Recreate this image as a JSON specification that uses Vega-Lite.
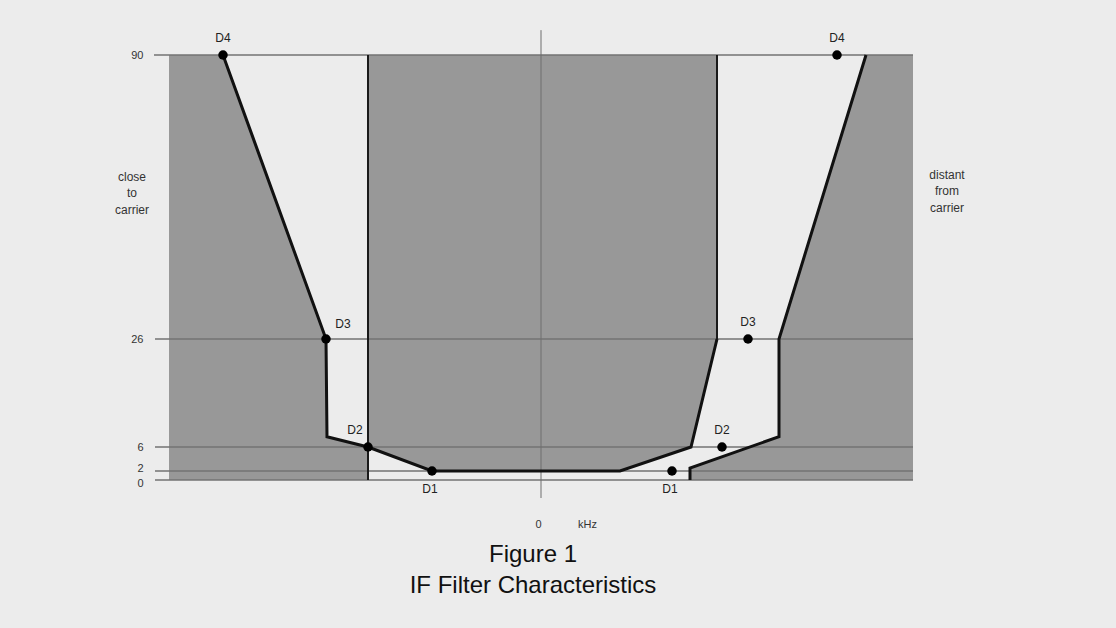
{
  "$schema": "https://vega.github.io/schema/vega-lite/v6.json",
  "autosize": "none",
  "width": 800,
  "height": 500,
  "padding": {"left": 143, "top": 20, "right": 173, "bottom": 108},
  "background": "#ececec",
  "config": {"view": {"stroke": null}, "font": "Liberation Sans"},
  "title": {
    "text": "Figure 1",
    "subtitle": "IF Filter Characteristics",
    "orient": "bottom",
    "anchor": "middle",
    "offset": 14,
    "dx": -10,
    "fontSize": 24,
    "subtitleFontSize": 24,
    "fontWeight": "normal",
    "font": "Liberation Sans",
    "subtitleFont": "Liberation Sans",
    "color": "#111111",
    "subtitleColor": "#111111",
    "subtitlePadding": 7
  },
  "datasets": {
    "regions": [
      {"reg": "L", "f": -37.2, "a": 90, "a0": 0},
      {"reg": "L", "f": -31.8, "a": 90, "a0": 0},
      {"reg": "L", "f": -21.5, "a": 26, "a0": 0},
      {"reg": "L", "f": -21.4, "a": 7.9, "a0": 0},
      {"reg": "L", "f": -17.3, "a": 6, "a0": 0},
      {"reg": "C", "f": -17.3, "a": 90, "a0": 6},
      {"reg": "C", "f": -10.9, "a": 90, "a0": 2},
      {"reg": "C", "f": 7.9, "a": 90, "a0": 2},
      {"reg": "C", "f": 15.0, "a": 90, "a0": 6},
      {"reg": "C", "f": 17.6, "a": 90, "a0": 26},
      {"reg": "R", "f": 14.9, "a": 2.5, "a0": 0},
      {"reg": "R", "f": 23.8, "a": 7.9, "a0": 0},
      {"reg": "R", "f": 23.81, "a": 26, "a0": 0},
      {"reg": "R", "f": 32.5, "a": 90, "a0": 0},
      {"reg": "R", "f": 37.2, "a": 90, "a0": 0}
    ],
    "hlines": [
      {"a": 0, "f": -38.6, "f2": 37.2},
      {"a": 2, "f": -38.6, "f2": 37.2},
      {"a": 6, "f": -38.6, "f2": 37.2},
      {"a": 26, "f": -38.6, "f2": 37.2},
      {"a": 90, "f": -38.7, "f2": 37.2}
    ],
    "bounds": [
      {"f": -17.3, "a": 90, "a2": 0},
      {"f": 17.6, "a": 90, "a2": 26}
    ],
    "centre": [
      {"f": 0, "a": 95.6, "a2": -4}
    ],
    "curves": [
      {"seg": "inner", "n": 1, "f": -31.8, "a": 90},
      {"seg": "inner", "n": 2, "f": -21.5, "a": 26},
      {"seg": "inner", "n": 3, "f": -21.4, "a": 7.9},
      {"seg": "inner", "n": 4, "f": -17.3, "a": 6},
      {"seg": "inner", "n": 5, "f": -10.9, "a": 2},
      {"seg": "inner", "n": 6, "f": 7.9, "a": 2},
      {"seg": "inner", "n": 7, "f": 15.0, "a": 6},
      {"seg": "inner", "n": 8, "f": 17.6, "a": 26},
      {"seg": "outer", "n": 1, "f": 32.5, "a": 90},
      {"seg": "outer", "n": 2, "f": 23.8, "a": 26},
      {"seg": "outer", "n": 3, "f": 23.8, "a": 7.9},
      {"seg": "outer", "n": 4, "f": 14.9, "a": 2.5},
      {"seg": "outer", "n": 5, "f": 14.9, "a": 0}
    ],
    "points": [
      {"lab": "D4", "side": "L", "f": -31.8, "a": 90},
      {"lab": "D3", "side": "L", "f": -21.5, "a": 26},
      {"lab": "D2", "side": "L", "f": -17.3, "a": 6},
      {"lab": "D1", "side": "L", "f": -10.9, "a": 2},
      {"lab": "D4", "side": "R", "f": 29.6, "a": 90},
      {"lab": "D3", "side": "R", "f": 20.7, "a": 26},
      {"lab": "D2", "side": "R", "f": 18.1, "a": 6},
      {"lab": "D1", "side": "R", "f": 13.1, "a": 2}
    ],
    "notes": [
      {"t": "close", "f": -40.9, "a": 62.5},
      {"t": "to", "f": -40.9, "a": 58.9},
      {"t": "carrier", "f": -40.9, "a": 55.1},
      {"t": "distant", "f": 40.6, "a": 63.0},
      {"t": "from", "f": 40.6, "a": 59.4},
      {"t": "carrier", "f": 40.6, "a": 55.5}
    ]
  },
  "encoding": {
    "x": {
      "field": "f",
      "type": "quantitative",
      "scale": {"domain": [-39.8, 40.2], "nice": false, "zero": false},
      "axis": {
        "values": [0],
        "domain": false,
        "ticks": false,
        "grid": false,
        "labelPadding": -2,
        "labelFontSize": 11,
        "labelColor": "#333333",
        "labelOffset": -3,
        "title": "kHz",
        "titleFontSize": 11,
        "titleFontWeight": "normal",
        "titleColor": "#333333",
        "titleX": 444,
        "titleY": -2,
        "titleAlign": "center",
        "titleBaseline": "top"
      }
    },
    "y": {
      "field": "a",
      "type": "quantitative",
      "scale": {"domain": [0, 2, 6, 26, 90], "range": [460, 451, 427, 319, 35], "nice": false, "zero": false},
      "axis": {
        "values": [0, 2, 6, 26, 90],
        "domain": false,
        "ticks": false,
        "grid": false,
        "labelPadding": 0,
        "labelFontSize": 11,
        "labelColor": "#333333",
        "labelOverlap": false,
        "labelOffset": {"expr": "datum.value == 2 ? -3 : (datum.value == 0 ? 3 : 0)"},
        "title": null
      }
    }
  },
  "layer": [
    {
      "data": {"name": "regions"},
      "mark": {"type": "area", "color": "#989898", "opacity": 1, "interpolate": "linear"},
      "encoding": {"y2": {"field": "a0"}, "detail": {"field": "reg"}}
    },
    {
      "data": {"name": "hlines"},
      "mark": {"type": "rule", "color": "#737373", "strokeWidth": 1.5},
      "encoding": {"x2": {"field": "f2"}}
    },
    {
      "data": {"name": "centre"},
      "mark": {"type": "rule", "color": "#6f6f6f", "strokeWidth": 1},
      "encoding": {"y2": {"field": "a2"}}
    },
    {
      "data": {"name": "bounds"},
      "mark": {"type": "rule", "color": "#1a1a1a", "strokeWidth": 2},
      "encoding": {"y2": {"field": "a2"}}
    },
    {
      "data": {"name": "curves"},
      "mark": {"type": "line", "color": "#111111", "strokeWidth": 3, "strokeJoin": "miter"},
      "encoding": {"detail": {"field": "seg"}, "order": {"field": "n"}}
    },
    {
      "data": {"name": "points"},
      "mark": {"type": "point", "filled": true, "color": "#000000", "size": 90, "opacity": 1},
      "encoding": {}
    },
    {
      "data": {"name": "points"},
      "transform": [{"filter": "datum.side == 'R' && datum.lab != 'D1' || datum.lab == 'D4'"}],
      "mark": {"type": "text", "fontSize": 12, "color": "#222222", "dy": -17},
      "encoding": {"text": {"field": "lab"}}
    },
    {
      "data": {"name": "points"},
      "transform": [{"filter": "datum.side == 'L' && datum.lab == 'D3'"}],
      "mark": {"type": "text", "fontSize": 12, "color": "#222222", "dx": 17, "dy": -15},
      "encoding": {"text": {"field": "lab"}}
    },
    {
      "data": {"name": "points"},
      "transform": [{"filter": "datum.side == 'L' && datum.lab == 'D2'"}],
      "mark": {"type": "text", "fontSize": 12, "color": "#222222", "dx": -13, "dy": -17},
      "encoding": {"text": {"field": "lab"}}
    },
    {
      "data": {"name": "points"},
      "transform": [{"filter": "datum.lab == 'D1'"}],
      "mark": {"type": "text", "fontSize": 12, "color": "#222222", "dx": -2, "dy": 18},
      "encoding": {"text": {"field": "lab"}}
    },
    {
      "data": {"name": "notes"},
      "mark": {"type": "text", "fontSize": 12, "color": "#333333"},
      "encoding": {"text": {"field": "t"}}
    }
  ]
}
